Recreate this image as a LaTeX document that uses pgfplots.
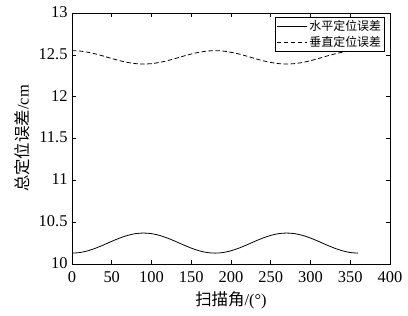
\documentclass[border=0pt]{standalone}
\usepackage{pgfplots}
\pgfplotsset{compat=1.18}
\usepackage{fontspec}
\setmainfont{Liberation Serif}
\newfontfamily\cjk{Noto Sans CJK SC}
\pgfplotsset{longline/.style={legend image code/.code={\draw[#1] (0bp,0bp) -- (30bp,0bp);}}}
\pgfplotstableread{
x h v
0 10.130 12.550
10 10.137 12.545
20 10.158 12.531
30 10.190 12.510
40 10.229 12.484
50 10.271 12.456
60 10.310 12.430
70 10.342 12.409
80 10.363 12.395
90 10.370 12.390
100 10.363 12.395
110 10.342 12.409
120 10.310 12.430
130 10.271 12.456
140 10.229 12.484
150 10.190 12.510
160 10.158 12.531
170 10.137 12.545
180 10.130 12.550
190 10.137 12.545
200 10.158 12.531
210 10.190 12.510
220 10.229 12.484
230 10.271 12.456
240 10.310 12.430
250 10.342 12.409
260 10.363 12.395
270 10.370 12.390
280 10.363 12.395
290 10.342 12.409
300 10.310 12.430
310 10.271 12.456
320 10.229 12.484
330 10.190 12.510
340 10.158 12.531
350 10.137 12.545
360 10.130 12.550
}\datatable
\begin{document}
\begin{tikzpicture}
\begin{axis}[
  name=ax,
  at={(0,0)}, anchor=south west,
  scale only axis,
  width=318bp, height=251bp,
  xmin=0, xmax=400, ymin=10, ymax=13,
  xtick={0,50,...,400},
  ytick={10,10.5,...,13},
  yticklabels={10,10.5,11,11.5,12,12.5,13},
  tick align=inside,
  major tick length=4bp,
  axis line style={line width=0.8pt},
  tick style={line width=0.6pt, black},
  /pgf/number format/assume math mode=true,
  ticklabel style={font=\fontsize{16.5}{16.5}\selectfont},
  xticklabel style={yshift=-4bp},
  yticklabel style={xshift=-1bp, yshift=1bp},
  xlabel={{\cjk 扫描角}/(°)},
  ylabel={{\cjk 总定位误差}/cm},
  label style={font=\fontsize{16.5}{16.5}\selectfont},
  xlabel style={yshift=-2bp},
  ylabel style={yshift=2bp},
  legend style={at={(rel axis cs:0.984,0.984)}, anchor=north east,
    font=\fontsize{12}{12}\selectfont, draw=black, line width=0.6pt,
    inner sep=1.5pt, row sep=0pt},
  legend cell align=left,
  longline,
]
\addplot[black, line width=0.8pt, smooth] table[x=x, y=h] {\datatable};
\addlegendentry{\cjk 水平定位误差}
\addplot[black, line width=0.8pt, smooth, dash pattern=on 4.5pt off 2.5pt] table[x=x, y=v] {\datatable};
\addlegendentry{\cjk 垂直定位误差}
\end{axis}
\pgfresetboundingbox
\path[use as bounding box] (-72bp,-52bp) rectangle (336bp,264bp);
\end{tikzpicture}
\end{document}
